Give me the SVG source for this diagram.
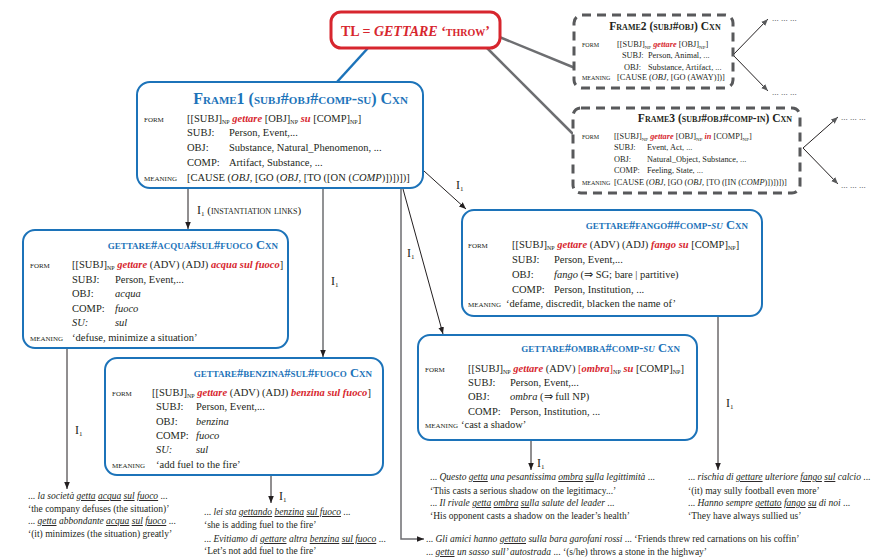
<svg xmlns="http://www.w3.org/2000/svg" width="883" height="558" viewBox="0 0 883 558">
<style>
text{font-family:"Liberation Serif","Times New Roman",serif;fill:#231f20}
.f1{font-size:10.5px}
.f2{font-size:8.3px}
.lb{font-size:9.5px;font-variant:small-caps}
.lb2{font-size:8px;font-variant:small-caps}
.r{fill:#d7262e;font-weight:bold;font-style:italic}
.rn{fill:#d7262e}
.i{font-style:italic}
.u{text-decoration:underline}
.tb{font-weight:bold;font-variant:small-caps;fill:#1c73b9}
.tk{font-weight:bold;font-variant:small-caps;fill:#231f20}
.ex{font-size:9.5px}
.il{font-size:12px}
.box{fill:#fff;stroke:#1c73b9;stroke-width:2}
.dash{fill:#fff;stroke:#58595b;stroke-width:3;stroke-dasharray:9 6}
.ln{stroke:#231f20;stroke-width:1;fill:none}
.gl{stroke:#6d6e71;stroke-width:2.5;fill:none}
.gv{stroke:#6d6e71;stroke-width:1.5;fill:none}
.dots{font-size:9px;fill:#444}
</style>
<defs>
<marker id="ah" viewBox="0 0 10 10" refX="10" refY="5" markerWidth="7" markerHeight="7" markerUnits="userSpaceOnUse" orient="auto"><path d="M0,1 L10,5 L0,9 z" fill="#231f20"/></marker>
<marker id="ahg" viewBox="0 0 10 10" refX="10" refY="5" markerWidth="7" markerHeight="7" markerUnits="userSpaceOnUse" orient="auto"><path d="M0,1 L10,5 L0,9 z" fill="#58595b"/></marker>
</defs>

<g id="connectors">
<line x1="368" y1="48" x2="337" y2="82" stroke="#1c73b9" stroke-width="2.5"/>
<line class="gl" x1="497" y1="36" x2="575" y2="68"/>
<line class="gl" x1="486" y1="47" x2="573" y2="134"/>
<line class="ln" stroke="#58595b" x1="733" y1="55" x2="768" y2="19" marker-end="url(#ahg)"/>
<line class="ln" stroke="#58595b" x1="733" y1="55" x2="768" y2="91" marker-end="url(#ahg)"/>
<line class="ln" stroke="#58595b" x1="803" y1="148" x2="838" y2="117" marker-end="url(#ahg)"/>
<line class="ln" stroke="#58595b" x1="803" y1="148" x2="838" y2="184" marker-end="url(#ahg)"/>
<line class="ln" x1="188" y1="189" x2="188" y2="229" marker-end="url(#ah)"/>
<line class="gv" x1="323" y1="189" x2="323" y2="357" marker-end="url(#ah)"/>
<polyline class="gv" points="401,189 401,539 424,539" marker-end="url(#ah)"/>
<line class="ln" x1="403" y1="189" x2="443" y2="334" marker-end="url(#ah)"/>
<line class="ln" x1="424" y1="171" x2="466" y2="209" marker-end="url(#ah)"/>
<line class="ln" x1="67" y1="349" x2="67" y2="489" marker-end="url(#ah)"/>
<line class="ln" x1="271" y1="476" x2="271" y2="503" marker-end="url(#ah)"/>
<line class="ln" x1="531" y1="441" x2="531" y2="470" marker-end="url(#ah)"/>
<line class="ln" x1="718" y1="317" x2="718" y2="470" marker-end="url(#ah)"/>
<text class="il" x="197" y="214">I<tspan font-size="7" dy="2">1</tspan><tspan dy="-2" font-size="11" font-variant="small-caps"> (instantiation links)</tspan></text>
<text class="il" x="331" y="285">I<tspan font-size="7" dy="2">1</tspan></text>
<text class="il" x="407" y="257">I<tspan font-size="7" dy="2">1</tspan></text>
<text class="il" x="456" y="189">I<tspan font-size="7" dy="2">1</tspan></text>
<text class="il" x="75" y="434">I<tspan font-size="7" dy="2">1</tspan></text>
<text class="il" x="279" y="500">I<tspan font-size="7" dy="2">1</tspan></text>
<text class="il" x="537" y="467">I<tspan font-size="7" dy="2">1</tspan></text>
<text class="il" x="726" y="407">I<tspan font-size="7" dy="2">1</tspan></text>
</g>

<g id="tl">
<rect x="331" y="12" width="169" height="36" rx="10" fill="#fff" stroke="#d7262e" stroke-width="3"/>
<text x="415.5" y="36" text-anchor="middle" font-size="14" font-weight="bold" style="fill:#d7262e">TL = <tspan font-style="italic">GETTARE</tspan> <tspan font-variant="small-caps">‘throw’</tspan></text>
</g>

<g id="frame1">
<rect class="box" x="137" y="82" width="286" height="106" rx="13" stroke-width="3"/>
<text class="tb" x="408" y="104" text-anchor="end" font-size="16">Frame1 (subj#obj#comp-su) Cxn</text>
<text class="lb" x="144" y="122">form</text>
<text class="f1" x="187" y="122">[[SUBJ]<tspan font-size="6" dy="2">NP</tspan><tspan dy="-2"> </tspan><tspan class="r">gettare</tspan> [OBJ]<tspan font-size="6" dy="2">NP</tspan><tspan dy="-2"> </tspan><tspan class="r">su</tspan> [COMP]<tspan font-size="6" dy="2">NP</tspan><tspan dy="-2">]</tspan></text>
<text class="f1" x="187" y="136">SUBJ:</text><text class="f1" x="229" y="136">Person, Event,...</text>
<text class="f1" x="187" y="151">OBJ:</text><text class="f1" x="229" y="151">Substance, Natural_Phenomenon, ...</text>
<text class="f1" x="187" y="166">COMP:</text><text class="f1" x="229" y="166">Artifact, Substance, ...</text>
<text class="lb" x="144" y="181">meaning</text>
<text class="f1" x="187" y="181">[CAUSE (<tspan class="i">OBJ,</tspan> [GO (<tspan class="i">OBJ,</tspan> [TO ([ON (<tspan class="i">COMP</tspan>)])])])]</text>
</g>

<g id="frame2">
<rect class="dash" x="574" y="15" width="159" height="73" rx="8"/>
<text class="tk" x="665" y="30" text-anchor="middle" font-size="11.5">Frame2 (subj#obj) Cxn</text>
<text class="lb2" x="582" y="47">form</text>
<text class="f2" x="617" y="47">[[SUBJ]<tspan font-size="5" dy="2">NP</tspan><tspan dy="-2"> </tspan><tspan class="r">gettare</tspan> [OBJ]<tspan font-size="5" dy="2">NP</tspan><tspan dy="-2">]</tspan></text>
<text class="f2" x="622" y="58">SUBJ:</text><text class="f2" x="648" y="58">Person, Animal, ...</text>
<text class="f2" x="624" y="70">OBJ:</text><text class="f2" x="648" y="70">Substance, Artifact, ...</text>
<text class="lb2" x="582" y="80">meaning</text>
<text class="f2" x="617" y="80">[CAUSE (<tspan class="i">OBJ,</tspan> [GO (AWAY)])]</text>
<text class="dots" x="772" y="21">... ... ...</text>
<text class="dots" x="772" y="95">... ... ...</text>
</g>

<g id="frame3">
<rect class="dash" x="573" y="108" width="227" height="85" rx="8"/>
<text class="tk" x="715" y="122" text-anchor="middle" font-size="11.5">Frame3 (subj#obj#comp-in) Cxn</text>
<text class="lb2" x="582" y="139">form</text>
<text class="f2" x="614" y="139">[[SUBJ]<tspan font-size="5" dy="2">NP</tspan><tspan dy="-2"> </tspan><tspan class="r">gettare</tspan> [OBJ]<tspan font-size="5" dy="2">NP</tspan><tspan dy="-2"> </tspan><tspan class="r">in</tspan> [COMP]<tspan font-size="5" dy="2">NP</tspan><tspan dy="-2">]</tspan></text>
<text class="f2" x="614" y="150">SUBJ:</text><text class="f2" x="647" y="150">Event, Act, ...</text>
<text class="f2" x="614" y="162">OBJ:</text><text class="f2" x="647" y="162">Natural_Object, Substance, ...</text>
<text class="f2" x="614" y="173">COMP:</text><text class="f2" x="647" y="173">Feeling, State, ...</text>
<text class="lb2" x="582" y="185">meaning</text>
<text class="f2" x="614" y="185">[CAUSE (<tspan class="i">OBJ,</tspan> [GO (<tspan class="i">OBJ,</tspan> [TO ([IN (<tspan class="i">COMP</tspan>)])])])]</text>
<text class="dots" x="841" y="120">... ... ...</text>
<text class="dots" x="841" y="188">... ... ...</text>
</g>

<g id="acqua">
<rect class="box" x="23" y="230" width="265" height="118" rx="12"/>
<text class="tb" x="278" y="249" text-anchor="end" font-size="12.5">gettare#acqua#sul#fuoco Cxn</text>
<text class="lb" x="30" y="268">form</text>
<text class="f1" x="72" y="268">[[SUBJ]<tspan font-size="6" dy="2">NP</tspan><tspan dy="-2"> </tspan><tspan class="r">gettare</tspan> (ADV) (ADJ) <tspan class="r">acqua sul fuoco</tspan>]</text>
<text class="f1" x="72" y="283">SUBJ:</text><text class="f1" x="115" y="283">Person, Event,...</text>
<text class="f1" x="72" y="297">OBJ:</text><text class="f1 i" x="115" y="297">acqua</text>
<text class="f1" x="72" y="312">COMP:</text><text class="f1 i" x="115" y="312">fuoco</text>
<text class="f1 i" x="72" y="326">SU:</text><text class="f1 i" x="115" y="326">sul</text>
<text class="lb" x="30" y="341">meaning</text>
<text class="f1" x="72" y="341">‘defuse, minimize a situation’</text>
</g>

<g id="benzina">
<rect class="box" x="105" y="358" width="278" height="117" rx="12"/>
<text class="tb" x="372" y="377" text-anchor="end" font-size="12.5">gettare#benzina#sul#fuoco Cxn</text>
<text class="lb" x="112" y="396">form</text>
<text class="f1" x="152" y="396">[[SUBJ]<tspan font-size="6" dy="2">NP</tspan><tspan dy="-2"> </tspan><tspan class="r">gettare</tspan> (ADV) (ADJ) <tspan class="r">benzina sul fuoco</tspan>]</text>
<text class="f1" x="156" y="410">SUBJ:</text><text class="f1" x="196" y="410">Person, Event,...</text>
<text class="f1" x="156" y="425">OBJ:</text><text class="f1 i" x="196" y="425">benzina</text>
<text class="f1" x="156" y="439">COMP:</text><text class="f1 i" x="196" y="439">fuoco</text>
<text class="f1 i" x="156" y="453">SU:</text><text class="f1 i" x="196" y="453">sul</text>
<text class="lb" x="112" y="468">meaning</text>
<text class="f1" x="156" y="468">‘add fuel to the fire’</text>
</g>

<g id="fango">
<rect class="box" x="462" y="210" width="300" height="106" rx="12"/>
<text class="tb" x="748" y="229" text-anchor="end" font-size="12.5">gettare#fango##comp-<tspan font-style="italic">su</tspan> Cxn</text>
<text class="lb" x="468" y="248">form</text>
<text class="f1" x="512" y="248">[[SUBJ]<tspan font-size="6" dy="2">NP</tspan><tspan dy="-2"> </tspan><tspan class="r">gettare</tspan> (ADV) (ADJ) <tspan class="r">fango su</tspan> [COMP]<tspan font-size="6" dy="2">NP</tspan><tspan dy="-2">]</tspan></text>
<text class="f1" x="512" y="263">SUBJ:</text><text class="f1" x="554" y="263">Person, Event,...</text>
<text class="f1" x="512" y="278">OBJ:</text><text class="f1" x="554" y="278"><tspan class="i">fango</tspan> (⇒ SG; bare | partitive)</text>
<text class="f1" x="512" y="293">COMP:</text><text class="f1" x="554" y="293">Person, Institution, ...</text>
<text class="lb" x="468" y="307">meaning</text>
<text class="f1" x="506" y="307">‘defame, discredit, blacken the name of’</text>
</g>

<g id="ombra">
<rect class="box" x="418" y="335" width="279" height="105" rx="12"/>
<text class="tb" x="680" y="352" text-anchor="end" font-size="12.5">gettare#ombra#comp-<tspan font-style="italic">su</tspan> Cxn</text>
<text class="lb" x="425" y="372">form</text>
<text class="f1" x="468" y="372">[[SUBJ]<tspan font-size="6" dy="2">NP</tspan><tspan dy="-2"> </tspan><tspan class="r">gettare</tspan> (ADV) <tspan class="rn">[</tspan><tspan class="r">ombra</tspan><tspan class="rn">]</tspan><tspan font-size="6" dy="2">NP</tspan><tspan dy="-2"> </tspan><tspan class="r">su</tspan> [COMP]<tspan font-size="6" dy="2">NP</tspan><tspan dy="-2">]</tspan></text>
<text class="f1" x="468" y="386">SUBJ:</text><text class="f1" x="510" y="386">Person, Event,...</text>
<text class="f1" x="468" y="400">OBJ:</text><text class="f1" x="510" y="400"><tspan class="i">ombra</tspan> (⇒ full NP)</text>
<text class="f1" x="468" y="415">COMP:</text><text class="f1" x="510" y="415">Person, Institution, ...</text>
<text class="lb" x="425" y="428">meaning</text>
<text class="f1" x="461" y="428">‘cast a shadow’</text>
</g>

<g id="examples-acqua">
<text class="ex" x="28" y="499">... <tspan class="i">la società <tspan class="u">getta</tspan> <tspan class="u">acqua</tspan> <tspan class="u">sul</tspan> <tspan class="u">fuoco</tspan></tspan> ...</text>
<text class="ex" x="28" y="512">‘the company defuses (the situation)’</text>
<text class="ex" x="28" y="524">... <tspan class="i"><tspan class="u">getta</tspan> abbondante <tspan class="u">acqua</tspan> <tspan class="u">sul</tspan> <tspan class="u">fuoco</tspan></tspan> ...</text>
<text class="ex" x="28" y="537">‘(it) minimizes (the situation) greatly’</text>
</g>

<g id="examples-benzina">
<text class="ex" x="204" y="515">... <tspan class="i">lei sta <tspan class="u">gettando</tspan> <tspan class="u">benzina</tspan> <tspan class="u">sul fuoco</tspan></tspan> ...</text>
<text class="ex" x="204" y="528">‘she is adding fuel to the fire’</text>
<text class="ex" x="204" y="542">... <tspan class="i">Evitiamo di <tspan class="u">gettare</tspan> altra <tspan class="u">benzina</tspan> <tspan class="u">sul fuoco</tspan></tspan> ...</text>
<text class="ex" x="204" y="554">‘Let’s not add fuel to the fire’</text>
</g>

<g id="examples-ombra">
<text class="ex" x="430" y="480">... <tspan class="i">Questo <tspan class="u">getta</tspan> una pesantissima <tspan class="u">ombra</tspan> <tspan class="u">su</tspan>lla legittimità</tspan> ...</text>
<text class="ex" x="430" y="494">‘This casts a serious shadow on the legitimacy...’</text>
<text class="ex" x="430" y="506">... <tspan class="i">Il rivale <tspan class="u">getta</tspan> <tspan class="u">ombra</tspan> <tspan class="u">su</tspan>lla salute del leader</tspan> ...</text>
<text class="ex" x="430" y="519">‘His opponent casts a shadow on the leader’s health’</text>
</g>

<g id="examples-gettare">
<text class="ex" x="426" y="542">... <tspan class="i">Gli amici hanno <tspan class="u">gettato</tspan> sulla bara garofani rossi</tspan> ... ‘Friends threw red carnations on his coffin’</text>
<text class="ex" x="426" y="555">... <tspan class="i"><tspan class="u">getta</tspan> un sasso sull’ autostrada</tspan> ... ‘(s/he) throws a stone in the highway’</text>
</g>

<g id="examples-fango">
<text class="ex" x="688" y="480">... <tspan class="i">rischia di <tspan class="u">gettare</tspan> ulteriore <tspan class="u">fango</tspan> <tspan class="u">sul</tspan> calcio</tspan> ...</text>
<text class="ex" x="688" y="494">‘(it) may sully football even more’</text>
<text class="ex" x="688" y="506">... <tspan class="i">Hanno sempre <tspan class="u">gettato</tspan> <tspan class="u">fango</tspan> <tspan class="u">su</tspan> di noi</tspan> ...</text>
<text class="ex" x="688" y="519">‘They have always sullied us’</text>
</g>
</svg>
